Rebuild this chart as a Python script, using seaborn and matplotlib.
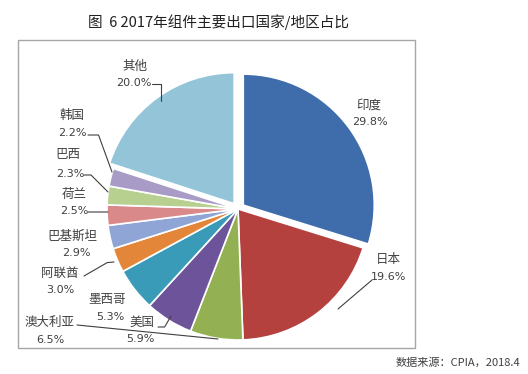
import matplotlib
matplotlib.use("Agg")
import matplotlib.pyplot as plt
import seaborn as sns
from matplotlib.patches import Rectangle

# ---- data ----
countries = ["印度", "日本", "澳大利亚", "美国", "墨西哥", "阿联酋", "巴基斯坦", "荷兰", "巴西", "韩国", "其他"]
shares = [29.8, 19.6, 6.5, 5.9, 5.3, 3.0, 2.9, 2.5, 2.3, 2.2, 20.0]
pct_labels = ["29.8%", "19.6%", "6.5%", "5.9%", "5.3%", "3.0%", "2.9%", "2.5%", "2.3%", "2.2%", "20.0%"]
title = "图  6 2017年组件主要出口国家/地区占比"
source = "数据来源：CPIA，2018.4"

sns.set_theme(style="white")
plt.rcParams['font.family'] = ['Noto Sans CJK SC', 'DejaVu Sans']

colors = sns.color_palette(["#3F6CAA", "#B5413E", "#93B152", "#6D549A", "#3A9BB8",
                            "#E3863A", "#8EA5D6", "#D9898A", "#B7D08F", "#A89CC6", "#93C4D8"])

W, H = 528, 374
CX, CY, R = 238, 209, 131
fig = plt.figure(figsize=(W / 100, H / 100), dpi=100)
fig.patch.set_facecolor("white")

# frame
fig.add_artist(Rectangle((18 / W, 1 - 348 / H), 397 / W, 308 / H, transform=fig.transFigure,
                         fill=False, edgecolor="#A6A6A6", lw=1.0))

ax = fig.add_axes([(CX - R) / W, (H - CY - R) / H, 2 * R / W, 2 * R / H])
explode = [0.05 if c in ("印度", "其他") else 0 for c in countries]
ax.pie(shares, colors=colors, startangle=90, counterclock=False, explode=explode,
       wedgeprops=dict(edgecolor="white", linewidth=1.2))
ax.set_xlim(-1, 1)
ax.set_ylim(-1, 1)
ax.set_aspect("equal")
ax.axis("off")


def P(px, py):
    return ((px - CX) / R, (CY - py) / R)


# label layout: name position, pct position (pixels)
layout = {
    "印度": ((369, 105), (370, 122)),
    "日本": ((388, 260), (389, 277)),
    "澳大利亚": ((50, 322), (50, 340)),
    "美国": ((142, 322), (140, 339)),
    "墨西哥": ((107, 300), (110, 317)),
    "阿联酋": ((60, 273), (60, 290)),
    "巴基斯坦": ((72, 236), (76, 253)),
    "荷兰": ((74, 194), (74, 211)),
    "巴西": ((68, 155), (70, 174)),
    "韩国": ((72, 115), (72, 133)),
    "其他": ((135, 66), (134, 83)),
}
tc = "#404040"
for name, pct in zip(countries, pct_labels):
    (nx, ny), (qx, qy) = layout[name]
    ax.text(*P(nx, ny), name, ha="center", va="center", fontsize=9, color=tc)
    ax.text(*P(qx, qy), pct, ha="center", va="center", fontsize=8, color=tc,
            family=["DejaVu Sans"])

# leader lines (start pixel, end pixel, connection)
leaders = [
    ((372, 280), (338, 309), "arc3"),
    ((152, 84), (161, 101), "angle,angleA=0,angleB=90,rad=0"),
    ((88, 135), (112, 172), "angle,angleA=0,angleB=-70,rad=0"),
    ((84, 175), (108, 192), "angle,angleA=0,angleB=-45,rad=0"),
    ((88, 212), (108, 212), "arc3"),
    ((84, 276), (114, 262), "angle,angleA=30,angleB=5,rad=0"),
    ((77, 325), (218, 339), "arc3"),
    ((158, 327), (171, 316), "angle,angleA=0,angleB=60,rad=0"),
]
for (sx, sy), (ex, ey), cs in leaders:
    ax.annotate("", xy=P(ex, ey), xytext=P(sx, sy), annotation_clip=False,
                arrowprops=dict(arrowstyle="-", color="#404040", lw=0.8,
                                shrinkA=0, shrinkB=0, connectionstyle=cs))

fig.text(218 / W, 1 - 22 / H, title, ha="center", va="center", fontsize=10.5, color="#202020")
fig.text(520 / W, 1 - 362 / H, source, ha="right", va="center", fontsize=8, color="#404040")

fig.savefig("out.png", dpi=100, facecolor="white")
